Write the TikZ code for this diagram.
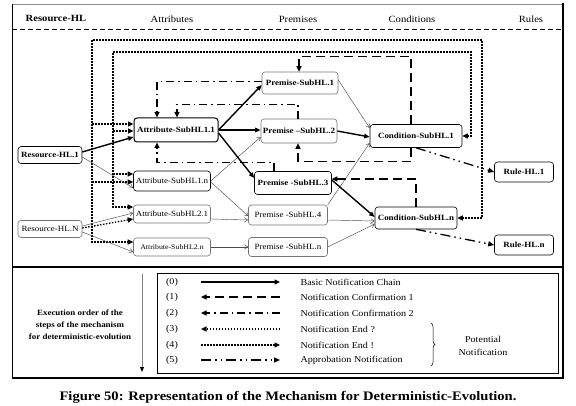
\documentclass[tikz,border=0pt]{standalone}
\usepackage{fontspec}
\setmainfont{Liberation Serif}[FakeStretch=1.12]
\usetikzlibrary{arrows.meta,decorations.pathreplacing,calc}
\begin{document}
\begin{tikzpicture}[x=1pt,y=-1pt,
  box/.style={draw, rounded corners=3pt, line width=0.6pt, inner sep=0pt, anchor=center},
  bnode/.style={box, font=\fontsize{8}{9}\selectfont\bfseries},
  nnode/.style={box, draw=black!55, font=\fontsize{8}{9}\selectfont},
  tarr/.style={line width=1.4pt, -{Triangle[length=5.5pt,width=4.5pt]}},
  narr/.style={line width=0.45pt, draw=black!70, -{Straight Barb[length=3.5pt,width=4.5pt]}},
  cfa/.style={line width=1.5pt, dash pattern=on 9pt off 5pt, -{Triangle[length=5.5pt,width=5pt]}},
  cfb/.style={line width=1.3pt, dash pattern=on 8pt off 4pt on 1.5pt off 4pt, -{Triangle[length=5.5pt,width=5pt]}},
  dotl/.style={line width=1.3pt, dash pattern=on 1.5pt off 1.5pt},
  dotarr/.style={dotl, -{Triangle[length=5.5pt,width=5pt]}},
  dotboth/.style={dotl, {Triangle[length=5.5pt,width=5pt]}-{Triangle[length=5.5pt,width=5pt]}},
  appr/.style={line width=1.3pt, dash pattern=on 10pt off 4pt on 1.5pt off 4pt on 1.5pt off 4pt, -{Triangle[length=6pt,width=5pt]}},
  hdr/.style={font=\fontsize{9.5}{10}\selectfont},
  legtxt/.style={font=\fontsize{9}{10}\selectfont, anchor=west},
  legnum/.style={font=\fontsize{9}{10}\selectfont},
]
\useasboundingbox (0,0) rectangle (576,406);

% frame
\draw[black!45, line width=0.6pt] (12,4) -- (563,4);
\draw[line width=0.6pt] (12,4) -- (12,378);
\draw[line width=2pt] (563,3) -- (563,379);
\draw[line width=1.8pt] (12,267) -- (563,267);
\draw[line width=1.8pt] (12,378) -- (564,378);
\draw[line width=0.8pt, dash pattern=on 5pt off 3pt] (12,29) -- (563,29);

% headers
\node[hdr, font=\fontsize{9.5}{10}\selectfont\bfseries] (hR) at (56,18) {Resource-HL};
\node[hdr] (hA) at (172,19) {Attributes};
\node[hdr] (hP) at (298,19) {Premises};
\node[hdr] (hC) at (412,19) {Conditions};
\node[hdr] (hRu) at (531,19) {Rules};

% nodes
\node[bnode, minimum width=64pt, minimum height=17pt] (R1) at (50,155) {Resource-HL.1};
\node[nnode, minimum width=64pt, minimum height=17pt] (RN) at (50,229) {Resource-HL.N};
\node[bnode, line width=1pt, minimum width=84pt, minimum height=24pt] (A11) at (176,130) {Attribute-SubHL1.1};
\node[nnode, draw=black, minimum width=77pt, minimum height=20pt] (A1n) at (172,181) {Attribute-SubHL1.n};
\node[nnode, minimum width=77pt, minimum height=18pt] (A21) at (172,214) {Attribute-SubHL2.1};
\node[nnode, minimum width=77pt, minimum height=18pt, font=\fontsize{7}{8}\selectfont] (A2n) at (172,247) {Attribute-SubHL2.n};
\node[bnode, draw=black!55, minimum width=76pt, minimum height=22pt] (P1) at (300,83) {Premise-SubHL.1};
\node[bnode, draw=black!55, minimum width=76pt, minimum height=24pt] (P2) at (299,131) {Premise –SubHL.2};
\node[bnode, minimum width=77pt, minimum height=23pt] (P3) at (293,183) {Premise -SubHL.3};
\node[nnode, minimum width=79pt, minimum height=20pt] (P4) at (288,215) {Premise -SubHL.4};
\node[nnode, minimum width=79pt, minimum height=19pt] (Pn) at (288,247) {Premise -SubHL.n};
\node[bnode, minimum width=92pt, minimum height=23pt] (C1) at (416,136) {Condition-SubHL.1};
\node[bnode, minimum width=82pt, minimum height=22pt] (Cn) at (416,218) {Condition-SubHL.n};
\node[bnode, minimum width=59pt, minimum height=20pt] (RL1) at (524,172) {Rule-HL.1};
\node[bnode, minimum width=59pt, minimum height=20pt] (RLn) at (524,245) {Rule-HL.n};

% dotted loops
\coordinate (oTR) at (482,40); \coordinate (oTL) at (92,40);
\coordinate (iTR) at (471,52); \coordinate (iTL) at (113,52);
\draw[dotboth] (Cn.east) -| (oTR) -- (oTL) |- ([yshift=5pt]A2n.west);
\draw[dotboth] (C1.east) -| (iTR) -- (iTL) |- ([yshift=7pt]A21.west);
\coordinate (b1) at ([yshift=6pt]A11.west);
\coordinate (b2) at ([yshift=-1pt]A11.west);
\coordinate (b3) at ([yshift=7pt]A1n.west);
\coordinate (b4) at ([yshift=-1pt]A1n.west);
\draw[dotarr] (b1 -| oTL) -- (b1);
\draw[dotarr] (b2 -| iTL) -- (b2);
\draw[dotarr] (b3 -| iTL) -- (b3);
\draw[dotarr] (b4 -| oTL) -- (b4);
\draw[dotarr] ([yshift=1pt]RN.east) -- ([yshift=-5pt]A21.west);

% thin arrows
\draw[narr] ([yshift=-2pt]R1.east) -- ([yshift=-7pt]A1n.west);
\draw[narr] ([yshift=3pt]RN.east) -- ([yshift=1pt]A21.west);
\draw[narr] ([yshift=-3pt]RN.east) -- ([yshift=-5pt]A2n.west);
\draw[narr] (A1n.east) -- ([yshift=-6pt]P2.west);
\draw[narr] ([yshift=-1pt]A1n.east) -- ([yshift=-1pt]P4.west);
\draw[narr] ([yshift=-5pt]A21.east) -- ([yshift=-5pt]P4.west);
\draw[narr] (A2n.east) -- (Pn.west);
\draw[narr] ([yshift=3pt]P1.east) -- ([yshift=8pt]C1.west);
\draw[narr] (P4.north east) -- ([yshift=-7pt]C1.west);
\draw[narr] ([yshift=-5pt]P4.east) -- ([yshift=-3pt]Cn.west);
\draw[narr] (Pn.east) -- ([yshift=-6pt]Cn.west);

% thick arrows
\draw[tarr] ([yshift=3pt]R1.east) -- ([yshift=-7pt]A11.west);
\draw[tarr] (A11.east) -- ([yshift=-2pt]P1.west);
\draw[tarr] (A11.east) -- (A11.east -| P2.west);
\draw[tarr] ([yshift=-3pt]A11.east) -- ([yshift=5pt]P3.west);
\draw[tarr] (P2.east) -- ([yshift=-1pt]C1.west);
\draw[tarr] ([yshift=3pt]P3.east) -- ([yshift=1pt]Cn.west);

% notification confirmation 1
\draw[cfa] ([xshift=-5pt]C1.north) |- ([xshift=-1pt,yshift=15pt]P1.north) -- ([xshift=-1pt]P1.north);
\draw[cfa] ([xshift=-5pt]C1.south) |- ([xshift=-1pt,yshift=-18pt]P2.south) -- ([xshift=-1pt]P2.south);
\draw[cfa] (Cn.north) |- ([yshift=4pt]P3.east);

% notification confirmation 2
\draw[cfb] ([yshift=1.5pt]P1.west) -| ([xshift=-19pt]A11.north);
\draw[cfb] ([xshift=-1pt]P2.north) |- ([xshift=1pt,yshift=13pt]A11.north) -- ([xshift=1pt]A11.north);
\draw[cfb] ([xshift=-19pt]P3.north) |- ([xshift=-19pt,yshift=-20pt]A11.south) -- ([xshift=-19pt]A11.south);

% approbation
\draw[appr] (C1.south) -- (RL1.west);
\draw[appr] (Cn.south) -- (RLn.west);

% legend
\draw[line width=0.6pt] (157,273) rectangle (558,373);
\coordinate (vt) at (142,274); \coordinate (vb) at (142,372);
\draw[black!50, line width=1pt, -{Triangle[length=5pt,width=4pt,color=black]}] (vt) -- (vb);
\node[font=\fontsize{8}{12}\selectfont\bfseries, align=center] (exe) at (80,325) {Execution order of the\\steps of the mechanism\\for deterministic-evolution};

\coordinate (l0a) at (201,282); \coordinate (l0b) at (280,282);
\coordinate (l1a) at (201,297); \coordinate (l1b) at (280,297);
\coordinate (l2a) at (201,313); \coordinate (l2b) at (280,313);
\coordinate (l3a) at (201,329); \coordinate (l3b) at (280,329);
\coordinate (l4a) at (201,345); \coordinate (l4b) at (280,345);
\coordinate (l5a) at (201,360); \coordinate (l5b) at (280,360);
\draw[line width=1.3pt, -{Triangle[length=5.5pt,width=5pt]}] (l0a) -- (l0b);
\draw[cfa] (l1b) -- (l1a);
\draw[cfb] (l2b) -- (l2a);
\draw[dotarr] (l3b) -- (l3a);
\draw[dotarr] (l4a) -- (l4b);
\draw[appr] (l5a) -- (l5b);

\node[legnum] (n0) at (172,282) {(0)};
\node[legnum] (n1) at (172,297) {(1)};
\node[legnum] (n2) at (172,313) {(2)};
\node[legnum] (n3) at (172,329) {(3)};
\node[legnum] (n4) at (172,345) {(4)};
\node[legnum] (n5) at (172,360) {(5)};
\node[legtxt] (t0) at (297,282) {Basic Notification Chain};
\node[legtxt] (t1) at (297,297) {Notification Confirmation 1};
\node[legtxt] (t2) at (297,313) {Notification Confirmation 2};
\node[legtxt] (t3) at (297,329) {Notification End ?};
\node[legtxt] (t4) at (297,345) {Notification End !};
\node[legtxt] (t5) at (297,360) {Approbation Notification};

\draw[line width=0.5pt, decorate, decoration={brace, amplitude=4pt}] (431,323) -- (431,366);
\node[font=\fontsize{9}{13.5}\selectfont, align=center] (pot) at (483,346) {Potential\\Notification};

\node[font=\fontsize{13}{15}\selectfont\bfseries] (cap) at (288,397) {Figure 50: Representation of the Mechanism for Deterministic-Evolution.};
\end{tikzpicture}
\end{document}
